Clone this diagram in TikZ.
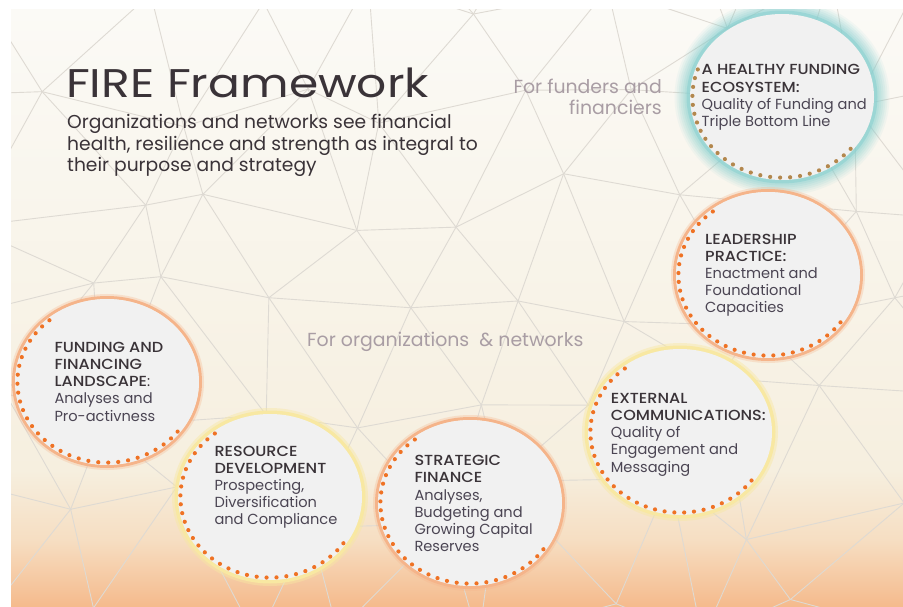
\documentclass[tikz,border=0pt]{standalone}
\usepackage{fontspec}
\setmainfont{Poppins}
\IfFontExistsTF{Poppins Medium}{\newfontfamily\headfont{Poppins Medium}[FakeStretch=1.1]}{\newfontfamily\headfont{Poppins}[FakeBold=1,FakeStretch=1.08]}
\newfontfamily\titlefont{Poppins}[FakeStretch=1.18]
\definecolor{txtdark}{HTML}{3A3338}
\definecolor{txtbody}{HTML}{4B4553}
\definecolor{txtlight}{HTML}{A99DA4}
\definecolor{meshc}{HTML}{DEDAD3}
\definecolor{circfill}{HTML}{F1F1F1}
\definecolor{ringor}{HTML}{F5B48A}
\definecolor{ringye}{HTML}{F8E8A2}
\definecolor{ringte}{HTML}{84CFCF}
\definecolor{dotor}{HTML}{EF7224}
\definecolor{dotbr}{HTML}{B3874D}
\definecolor{bgA}{HTML}{FBFAF6}
\definecolor{bgB}{HTML}{F6EFDF}
\definecolor{bgC}{HTML}{F6DEC2}
\definecolor{bgD}{HTML}{F5BA8C}
\newcommand\hd[1]{{\headfont\color{txtdark}#1}}
\newcommand\fireblob[7]{%
  \coordinate (#1) at (#2,-#3);
  \draw[#4] (#1) ellipse[x radius=93.5pt, y radius=84.5pt];
  \fill[circfill] (#1) ellipse[x radius=92pt, y radius=83pt];
  \pgfmathtruncatemacro\ndots{round((#7-#6)/6.3)}
  \pgfmathsetmacro\dstep{(#7-#6)/\ndots}
  \foreach \k in {0,...,\ndots}{\fill[#5] (#1) ++({#6+\k*\dstep}:89.6pt and 80.6pt) circle[radius=2.1pt];}
}
\tikzset{
  meshline/.style={draw=meshc, line width=0.9pt},
  ringorange/.style={draw=ringor, line width=3pt, preaction={draw=ringor, line width=7pt, opacity=0.3}},
  ringyellow/.style={draw=ringye, line width=4pt, preaction={draw=ringye, line width=9pt, opacity=0.45}},
  ringteal/.style={draw=ringte, line width=4pt, opacity=0.5,
    preaction={draw=ringte, line width=28pt, opacity=0.08},
    preaction={draw=ringte, line width=24pt, opacity=0.10},
    preaction={draw=ringte, line width=20pt, opacity=0.12},
    preaction={draw=ringte, line width=16pt, opacity=0.14},
    preaction={draw=ringte, line width=12pt, opacity=0.16},
    preaction={draw=ringte, line width=8pt, opacity=0.2}},
  dotsorange/.style={fill=dotor},
  dotsbrown/.style={fill=dotbr},
  circtext/.style={anchor=base west, inner sep=0pt, font=\fontsize{14.6}{17.2}\selectfont, text=txtbody},
  lighttext/.style={inner sep=0pt, font=\fontsize{18.9}{21.7}\selectfont, text=txtlight},
}
\begin{document}
\begin{tikzpicture}[x=1pt,y=1pt]
\useasboundingbox (0,0) rectangle (903,-607);
\fill[white] (0,0) rectangle (903,-607);
\begin{scope}
\clip (11,-10) rectangle (903,-607);
\shade[top color=bgA, bottom color=bgB] (11,-10) rectangle (903,-470.5);
\shade[top color=bgB, bottom color=bgC] (11,-470) rectangle (903,-540.5);
\shade[top color=bgC, bottom color=bgD] (11,-540) rectangle (903,-607);
% geometric mesh
\pgfmathsetseed{4242}
\foreach \i in {-1,...,9}{
  \foreach \j in {-1,...,6}{
    \pgfmathsetmacro\px{\i*118 + mod(\j+10,2)*59 + rand*36}
    \pgfmathsetmacro\py{\j*102 + rand*32}
    \coordinate (g-\i-\j) at (\px,-\py);
  }
}
\foreach \i in {-1,...,8}{
  \pgfmathtruncatemacro\ii{\i+1}
  \foreach \j in {-1,...,6}{\draw[meshline] (g-\i-\j) -- (g-\ii-\j);}
}
\foreach \i in {-1,...,9}{
  \foreach \j in {-1,...,5}{
    \pgfmathtruncatemacro\jj{\j+1}
    \draw[meshline] (g-\i-\j) -- (g-\i-\jj);
  }
}
\foreach \i in {0,...,9}{
  \pgfmathtruncatemacro\ii{\i-1}
  \foreach \j in {0,2,4}{
    \pgfmathtruncatemacro\jj{\j+1}
    \draw[meshline] (g-\i-\j) -- (g-\ii-\jj);
  }
}
\foreach \i in {-1,...,8}{
  \pgfmathtruncatemacro\ii{\i+1}
  \foreach \j in {-1,1,3,5}{
    \pgfmathtruncatemacro\jj{\j+1}
    \draw[meshline] (g-\i-\j) -- (g-\ii-\jj);
  }
}
% circles
\fireblob{eco}{782}{97}{ringteal}{dotsbrown}{160}{320}
\fireblob{land}{107}{382}{ringorange}{dotsorange}{130}{322}
\fireblob{res}{270}{497}{ringyellow}{dotsorange}{128}{325}
\fireblob{strat}{470}{503}{ringorange}{dotsorange}{128}{325}
\fireblob{ext}{680}{432}{ringyellow}{dotsorange}{128}{323}
\fireblob{lead}{768}{275}{ringorange}{dotsorange}{128}{324}
\end{scope}
% circle texts
\node[circtext] (eco-t) at (701.5,-75) {\begin{tabular}[t]{@{}l@{}}\hd{A HEALTHY FUNDING}\\\hd{ECOSYSTEM:}\\Quality of Funding and\\Triple Bottom Line\end{tabular}};
\node[circtext] (lead-t) at (705,-244) {\begin{tabular}[t]{@{}l@{}}\hd{LEADERSHIP}\\\hd{PRACTICE:}\\Enactment and\\Foundational\\Capacities\end{tabular}};
\node[circtext] (land-t) at (54.3,-352.3) {\begin{tabular}[t]{@{}l@{}}\hd{FUNDING AND}\\\hd{FINANCING}\\\hd{LANDSCAPE}{\color{txtdark}:}\\Analyses and\\Pro-activness\end{tabular}};
\node[circtext] (res-t) at (214.3,-456) {\begin{tabular}[t]{@{}l@{}}\hd{RESOURCE}\\\hd{DEVELOPMENT}\\Prospecting,\\Diversification\\and Compliance\end{tabular}};
\node[circtext] (strat-t) at (414.3,-465.7) {\begin{tabular}[t]{@{}l@{}}\hd{STRATEGIC}\\\hd{FINANCE}\\Analyses,\\Budgeting and\\Growing Capital\\Reserves\end{tabular}};
\node[circtext] (ext-t) at (610.7,-403.3) {\begin{tabular}[t]{@{}l@{}}\hd{EXTERNAL}\\\hd{COMMUNICATIONS:}\\Quality of\\Engagement and\\Messaging\end{tabular}};
% headings
\node[anchor=base west, inner sep=0pt, font=\titlefont\fontsize{40}{40}\selectfont, text=txtdark] (title) at (66,-98) {FIRE Framework};
\node[anchor=base west, inner sep=0pt, font=\fontsize{18.7}{21.5}\selectfont, text=txtdark] (sub) at (67,-129) {\begin{tabular}[t]{@{}l@{}}Organizations and networks see financial\\health, resilience and strength as integral to\\their purpose and strategy\end{tabular}};
\node[lighttext, anchor=base east] (funders) at (662,-93.3) {\begin{tabular}[t]{@{}r@{}}For funders and\\financiers\end{tabular}};
\node[lighttext, anchor=base west] (orgs) at (307,-346) {For organizations\ \ \& networks};
\end{tikzpicture}
\end{document}
